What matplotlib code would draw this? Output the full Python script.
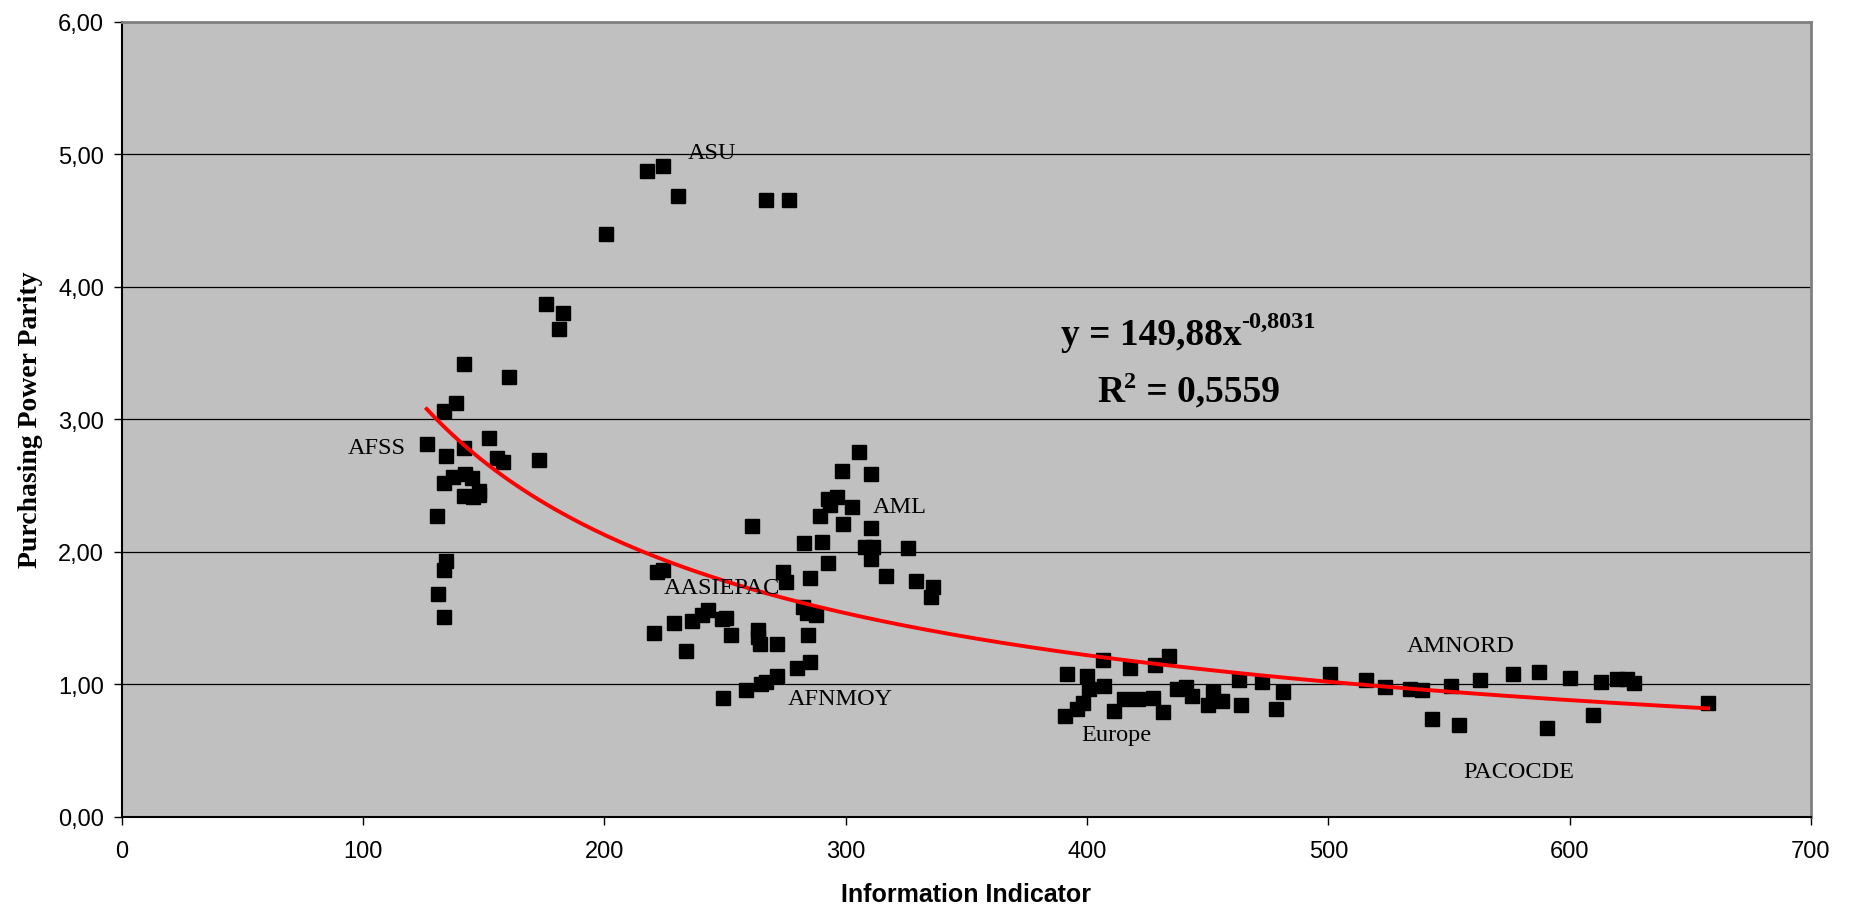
import numpy as np
import matplotlib
matplotlib.use('Agg')
import matplotlib.pyplot as plt
from matplotlib.ticker import FuncFormatter

# information indicator (x) and purchasing power parity (y), grouped by region
asu_x = [217.6, 224.1, 230.5, 266.8, 276.5, 200.6, 175.6, 182.8, 181.3]
asu_y = [4.87, 4.91, 4.68, 4.65, 4.65, 4.40, 3.87, 3.80, 3.68]

afss_x = [141.6, 160.3, 138.5, 133.6, 152.3, 126.3, 134.3, 141.6, 155.3, 157.8, 173.0, 133.6,
          137.1, 142.2, 144.9, 141.8, 145.6, 148.1, 148.1, 130.5, 134.3, 133.6, 131.1, 133.6]
afss_y = [3.415, 3.32, 3.12, 3.06, 2.86, 2.81, 2.725, 2.78, 2.71, 2.68, 2.695, 2.52,
          2.56, 2.59, 2.555, 2.42, 2.415, 2.43, 2.46, 2.27, 1.93, 1.86, 1.68, 1.505]

aasiepac_x = [221.6, 224.1, 220.6, 228.8, 233.6, 236.1, 240.3, 242.8, 248.6, 250.2, 252.3,
              263.7, 263.7, 264.4, 271.6, 261.3]
aasiepac_y = [1.845, 1.86, 1.385, 1.46, 1.25, 1.48, 1.52, 1.56, 1.49, 1.50, 1.37,
              1.41, 1.355, 1.30, 1.30, 2.195]

afnmoy_x = [249.0, 258.6, 264.9, 267.0, 271.6, 279.7, 285.2]
afnmoy_y = [0.90, 0.96, 1.00, 1.015, 1.06, 1.12, 1.166]

aml_x = [305.6, 298.3, 310.4, 292.8, 296.4, 293.5, 302.4, 289.3, 299.0, 310.4, 282.8, 290.3,
         308.0, 311.1, 310.4, 325.6, 292.6, 285.3, 316.8, 329.0, 336.3, 335.3, 274.1, 275.2,
         282.1, 283.8, 287.6, 284.5]
aml_y = [2.755, 2.61, 2.59, 2.40, 2.415, 2.35, 2.34, 2.27, 2.21, 2.18, 2.065, 2.076,
         2.034, 2.034, 1.945, 2.03, 1.915, 1.80, 1.815, 1.78, 1.73, 1.66, 1.845, 1.77,
         1.585, 1.535, 1.52, 1.37]

europe_x = [391.8, 390.8, 395.7, 398.4, 399.8, 400.8, 406.4, 407.1, 411.1, 415.3, 417.8, 421.0,
            427.4, 428.1, 431.6, 433.9, 437.1, 441.0, 443.6, 450.0, 452.3, 455.8, 462.9, 463.6,
            472.6, 478.3, 481.3]
europe_y = [1.078, 0.758, 0.81, 0.857, 1.065, 0.965, 1.183, 0.99, 0.80, 0.89, 1.123, 0.89,
            0.90, 1.148, 0.79, 1.21, 0.965, 0.977, 0.914, 0.844, 0.94, 0.876, 1.03, 0.844,
            1.02, 0.81, 0.944]

amnord_x = [500.8, 515.5, 523.4, 533.8, 538.9, 542.8, 550.8, 554.1, 562.8, 576.6, 587.3, 590.5,
            600.1, 609.8, 613.0, 619.5, 623.6, 626.6, 657.4]
amnord_y = [1.078, 1.035, 0.977, 0.965, 0.96, 0.738, 0.99, 0.695, 1.035, 1.078, 1.095, 0.668,
            1.048, 0.768, 1.02, 1.04, 1.04, 1.008, 0.86]

# power trend y = a * x^b
trend_a = 149.88
trend_b = -0.8031
r2 = 0.5559

region_names = ['ASU', 'AFSS', 'AASIEPAC', 'AML', 'AFNMOY', 'Europe', 'AMNORD', 'PACOCDE']

x_all = np.array(asu_x + afss_x + aasiepac_x + afnmoy_x + aml_x + europe_x + amnord_x)
y_all = np.array(asu_y + afss_y + aasiepac_y + afnmoy_y + aml_y + europe_y + amnord_y)


def dec(v, n):
    return ('%.*f' % (n, v)).replace('.', ',')


fig = plt.figure(figsize=(18.56, 9.12), dpi=100)
ax = fig.add_axes([0.0657, 0.1033, 0.91, 0.872])
ax.set_facecolor('#c0c0c0')

ax.plot(x_all, y_all, marker='s', linestyle='', ms=9.5, color='black', zorder=3)

xt = np.linspace(x_all.min(), x_all.max(), 300)
ax.plot(xt, trend_a * xt ** trend_b, color='#ff0000', lw=2.8, zorder=4)

ax.set_xlim(0, 700)
ax.set_ylim(0, 6)
ax.set_xticks(range(0, 701, 100))
ax.set_yticks(range(0, 7))
ax.yaxis.set_major_formatter(FuncFormatter(lambda v, p: dec(v, 2)))
ax.grid(axis='y', color='black', lw=0.9)
ax.set_axisbelow(True)

ax.tick_params(axis='both', direction='out', length=6, width=1, color='black',
               labelsize=17)
ax.tick_params(axis='x', pad=11)
ax.tick_params(axis='y', pad=7)
for lab in ax.get_xticklabels() + ax.get_yticklabels():
    lab.set_fontfamily('Liberation Sans')

for s in ['left', 'bottom']:
    ax.spines[s].set_color('black')
    ax.spines[s].set_linewidth(1.5)
for s in ['top', 'right']:
    ax.spines[s].set_color('#808080')
    ax.spines[s].set_linewidth(2)

ax.set_xlabel('Information Indicator', fontfamily='Liberation Sans', fontweight='bold',
              fontsize=18, labelpad=14)
ax.set_ylabel('Purchasing Power Parity', fontfamily='Liberation Serif', fontweight='bold',
              fontsize=20, labelpad=11)

# region labels
label_pos = [(234.6, 4.97), (93.8, 2.743), (224.4, 1.687), (311.1, 2.303),
             (276.0, 0.849), (397.8, 0.58), (532.4, 1.254), (555.8, 0.303)]
for name, (lx, ly) in zip(region_names, label_pos):
    ax.text(lx, ly, name, fontfamily='Liberation Serif', fontsize=17.5, va='baseline',
            ha='left', zorder=5)


# trend equation: pieces of bold serif text, superscripts raised by hand
def rich_line(parts, cx, cy):
    r = fig.canvas.get_renderer()
    objs = []
    for txt, size, rise in parts:
        t = ax.text(0, 0, txt, fontfamily='Liberation Serif', fontweight='bold',
                    fontsize=size, ha='left', va='baseline', zorder=5)
        objs.append((t, rise))
    widths = [t.get_window_extent(r).width for t, _ in objs]
    px, py = ax.transData.transform((cx, cy))
    x0 = px - sum(widths) / 2
    inv = ax.transData.inverted()
    for (t, rise), w in zip(objs, widths):
        t.set_position(inv.transform((x0, py + rise)))
        x0 += w


fig.canvas.draw()
rich_line([('y = %sx' % dec(trend_a, 2), 27, 0), (dec(trend_b, 4), 17.5, 17)], 442, 3.568)
rich_line([('R', 27, 0), ('2', 17.5, 14), (' = %s' % dec(r2, 4), 27, 0)], 442, 3.14)

fig.savefig('out.png', dpi=100, facecolor='white')
